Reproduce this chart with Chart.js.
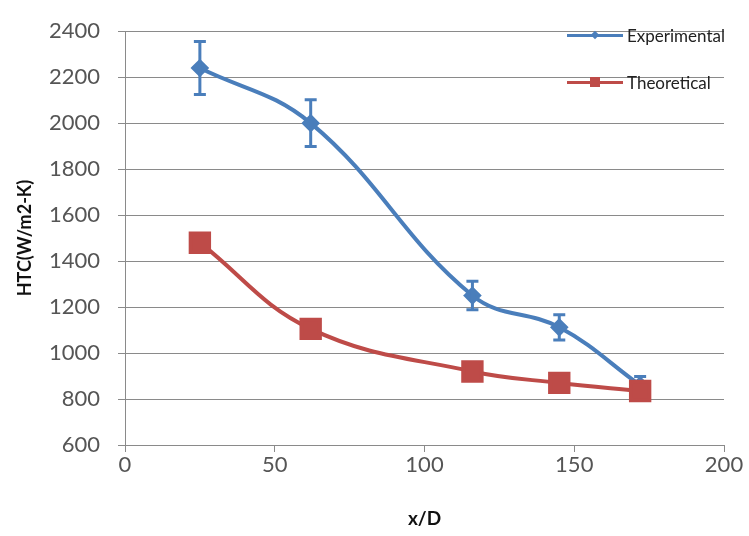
<!DOCTYPE html>
<html>
<head>
<meta charset="utf-8">
<script src="https://cdn.jsdelivr.net/npm/chart.js@4.4.0/dist/chart.umd.min.js"></script>
<style>
  body { margin: 0; background: #fff; }
  #wrap { position: relative; width: 749px; height: 536px; }
  #legend { position: absolute; left: 567px; top: 20px; font-family: Lato, sans-serif; font-size: 17px; color: #222; }
  .row { display: flex; align-items: center; height: 30px; }
  .row + .row { margin-top: 17px; }
  .sym { position: relative; width: 56px; height: 12px; margin-right: 4px; }
  .sym .ln { position: absolute; left: 0; right: 0; top: 5px; height: 3px; }
  .sym .mk { position: absolute; }
</style>
</head>
<body>
<div id="wrap">
  <canvas id="htcChart" width="749" height="536"></canvas>
  <div id="legend">
    <div class="row"><div class="sym"><div class="ln" style="background:#4a7ebb"></div><div class="mk" style="left:25px;top:3px;width:6px;height:6px;background:#4a7ebb;transform:rotate(45deg)"></div></div>Experimental</div>
    <div class="row"><div class="sym"><div class="ln" style="background:#be4b48"></div><div class="mk" style="left:23px;top:1px;width:10px;height:10px;background:#be4b48"></div></div>Theoretical</div>
  </div>
</div>
<script>
// Data
const xD = [25, 62, 116, 145, 172];
const experimental = [2240, 2000, 1250, 1112, 860];
const experimentalErr = [115, 102, 62, 55, 38];
const theoretical = [1480, 1105, 920, 870, 835];

const blue = '#4a7ebb';
const red = '#be4b48';
const gridGray = '#8a8a8a';

// error bars for the experimental series, drawn right after that dataset
const errorBars = {
    id: 'errorBars',
    afterDatasetDraw(chart, args) {
        if (args.index !== 0) return;
        const ctx = chart.ctx;
        const xs = chart.scales.x;
        const ys = chart.scales.y;
        ctx.save();
        ctx.strokeStyle = blue;
        ctx.lineWidth = 3;
        xD.forEach((x, i) => {
            const px = xs.getPixelForValue(x);
            const top = ys.getPixelForValue(experimental[i] + experimentalErr[i]);
            const bot = ys.getPixelForValue(experimental[i] - experimentalErr[i]);
            ctx.beginPath();
            ctx.moveTo(px, top); ctx.lineTo(px, bot);
            ctx.moveTo(px - 6, top); ctx.lineTo(px + 6, top);
            ctx.moveTo(px - 6, bot); ctx.lineTo(px + 6, bot);
            ctx.stroke();
        });
        ctx.restore();
    }
};

const ctx = document.getElementById('htcChart');
const htcChart = new Chart(ctx, {
    type: 'line',
    data: {
        datasets: [{
            label: 'Experimental',
            data: xD.map((x, i) => ({x: x, y: experimental[i]})),
            borderColor: blue,
            backgroundColor: blue,
            borderWidth: 4,
            pointStyle: 'rectRot',
            pointRadius: 6.5,
            tension: 0.4,
            order: 1
        }, {
            label: 'Theoretical',
            data: xD.map((x, i) => ({x: x, y: theoretical[i]})),
            borderColor: red,
            backgroundColor: red,
            borderWidth: 4,
            pointStyle: 'rect',
            pointRadius: 13,
            tension: 0.4,
            order: 0
        }]
    },
    options: {
        responsive: false,
        animation: false,
        layout: { padding: { top: 21, right: 25, left: 0, bottom: 0 } },
        scales: {
            x: {
                type: 'linear',
                min: 0,
                max: 200,
                ticks: { stepSize: 50, color: '#555', padding: 0, font: { family: 'Lato', size: 22 }, callback: (v) => String(v) },
                grid: { drawOnChartArea: false, color: gridGray, tickLength: 7 },
                border: { color: gridGray },
                title: { display: true, text: 'x/D', color: '#111', font: { family: 'Lato', size: 19, weight: 'bold' }, padding: { top: 0, bottom: 6 } },
                afterFit: (scale) => { scale.height = 91; }
            },
            y: {
                min: 600,
                max: 2400,
                ticks: { stepSize: 200, color: '#555', padding: 18, font: { family: 'Lato', size: 22 }, callback: (v) => String(v) },
                grid: { color: gridGray, tickLength: 7 },
                border: { color: gridGray },
                title: { display: true, text: 'HTC(W/m2-K)', color: '#111', font: { family: 'Lato', size: 18, weight: 'bold' }, padding: { top: 14, bottom: 0 } },
                afterFit: (scale) => { scale.width = 125; }
            }
        },
        plugins: {
            legend: { display: false },
            tooltip: { enabled: false }
        }
    },
    plugins: [errorBars]
});
</script>
</body>
</html>
